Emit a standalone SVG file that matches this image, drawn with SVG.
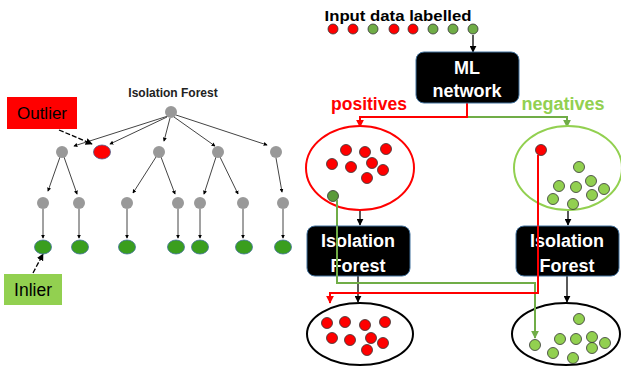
<svg xmlns="http://www.w3.org/2000/svg" width="621" height="370" viewBox="0 0 621 370">
<style>
.t{font-family:"Liberation Sans",Arial,sans-serif}
.b{font-weight:bold}
.g{fill:#999}
.leaf{fill:#3a9e1e;stroke:#41719c;stroke-width:0.8}
.rd{fill:#ff0000;stroke:#333;stroke-width:0.8}
.gd{fill:#92d050;stroke:#333;stroke-width:0.8}
.gd2{fill:#70ad47;stroke:#333;stroke-width:0.8}
.tl{stroke:#444;stroke-width:1;fill:none;marker-end:url(#sm)}
.bx{fill:#000;stroke:#41719c;stroke-width:1}
.wt{fill:#fff;font-size:18px;font-weight:bold;text-anchor:middle}
.bk{stroke:#000;stroke-width:1.3;fill:none;marker-end:url(#ab)}
</style>
<defs>
<marker id="sm" viewBox="0 0 6 6" refX="5" refY="3" markerWidth="4" markerHeight="4" orient="auto" markerUnits="userSpaceOnUse"><path d="M0,0L6,3L0,6z" fill="#000"/></marker>
<marker id="ab" viewBox="0 0 10 10" refX="9" refY="5" markerWidth="7" markerHeight="7" orient="auto" markerUnits="userSpaceOnUse"><path d="M0,0L10,5L0,10z" fill="#000"/></marker>
<marker id="ar" viewBox="0 0 10 10" refX="9" refY="5" markerWidth="8" markerHeight="8" orient="auto" markerUnits="userSpaceOnUse"><path d="M0,0L10,5L0,10z" fill="#ff0000"/></marker>
<marker id="ag" viewBox="0 0 10 10" refX="9" refY="5" markerWidth="8" markerHeight="8" orient="auto" markerUnits="userSpaceOnUse"><path d="M0,0L10,5L0,10z" fill="#70ad47"/></marker>
</defs>

<!-- Left tree -->
<g id="tree-title"><text class="t b" x="173" y="97" font-size="12" text-anchor="middle" fill="#222">Isolation Forest</text></g>

<g id="connectors">
<!-- tree edges -->
<path class="tl" d="M168,116L74,146"/>
<path class="tl" d="M167,117L110,144"/>
<path class="tl" d="M170,118L164,141"/>
<path class="tl" d="M174,117L215,146"/>
<path class="tl" d="M176,115L267,145"/>
<path class="tl" d="M60,157L48,191"/>
<path class="tl" d="M64,157L77,194"/>
<path class="tl" d="M156,157L133,193"/>
<path class="tl" d="M161,157L175,194"/>
<path class="tl" d="M216,157L204,194"/>
<path class="tl" d="M220,157L238,194"/>
<path class="tl" d="M276,158L282,192"/>
<path class="tl" d="M43,209V238"/>
<path class="tl" d="M79,209V238"/>
<path class="tl" d="M127,209V238"/>
<path class="tl" d="M178,209V238"/>
<path class="tl" d="M200,209V238"/>
<path class="tl" d="M243,209V238"/>
<path class="tl" d="M283,209V238"/>
<path d="M59,130L92,144" stroke="#000" stroke-width="1.3" stroke-dasharray="5,2" fill="none" marker-end="url(#ab)"/>
<path d="M33,273L43,254" stroke="#000" stroke-width="1.3" stroke-dasharray="5,2" fill="none" marker-end="url(#ab)"/>
<!-- right flow -->
<path class="bk" d="M473,35V52"/>
<path d="M467,103V117H360V127" stroke="#ff0000" stroke-width="2" fill="none" marker-end="url(#ar)"/>
<path d="M468,117H567V127" stroke="#70ad47" stroke-width="2" fill="none" marker-end="url(#ag)"/>
<path class="bk" d="M360,211V225"/>
<path class="bk" d="M568,211V225"/>
<path class="bk" d="M358,276V302"/>
<path class="bk" d="M567,276V302"/>
<path d="M337,200V283H535V338" stroke="#70ad47" stroke-width="2" fill="none" marker-end="url(#ag)"/>
<path d="M538,152V293H330V303" stroke="#ff0000" stroke-width="2" fill="none" marker-end="url(#ar)"/>
</g>

<g id="outlier-label"><rect x="7" y="97" width="70" height="32" fill="#ff0000"/><text class="t" x="42" y="119" font-size="17" text-anchor="middle" fill="#000">Outlier</text></g>
<g id="inlier-label"><rect x="4" y="274" width="58" height="31" fill="#92d050"/><text class="t" x="33" y="296" font-size="17.5" text-anchor="middle" fill="#000">Inlier</text></g>

<g id="root"><circle class="g" cx="171" cy="112" r="6"/></g>
<g id="level1">
<circle class="g" cx="62" cy="152" r="6"/>
<ellipse cx="102" cy="152" rx="8.5" ry="7" fill="#ff0000" stroke="#4a5a8a" stroke-width="0.8"/>
<circle class="g" cx="159" cy="152" r="6"/>
<circle class="g" cx="218" cy="152" r="6"/>
<circle class="g" cx="276" cy="152" r="6"/>
</g>
<g id="level2">
<circle class="g" cx="43" cy="203" r="6"/>
<circle class="g" cx="79" cy="203" r="6"/>
<circle class="g" cx="127" cy="203" r="6"/>
<circle class="g" cx="178" cy="203" r="6"/>
<circle class="g" cx="200" cy="203" r="6"/>
<circle class="g" cx="243" cy="203" r="6"/>
<circle class="g" cx="283" cy="203" r="6"/>
</g>
<g id="leaves">
<ellipse class="leaf" cx="43" cy="247" rx="8.5" ry="7"/>
<ellipse class="leaf" cx="80" cy="247" rx="8.5" ry="7"/>
<ellipse class="leaf" cx="127" cy="247" rx="8.5" ry="7"/>
<ellipse class="leaf" cx="176" cy="247" rx="8.5" ry="7"/>
<ellipse class="leaf" cx="200" cy="247" rx="8.5" ry="7"/>
<ellipse class="leaf" cx="244" cy="247" rx="8.5" ry="7"/>
<ellipse class="leaf" cx="283" cy="247" rx="8.5" ry="7"/>
</g>

<!-- Right flow -->
<g id="input">
<text class="t b" x="398" y="21" font-size="15.5" text-anchor="middle" fill="#000" textLength="147" lengthAdjust="spacingAndGlyphs">Input data labelled</text>
<circle class="rd" cx="333" cy="29" r="5"/>
<circle class="rd" cx="353" cy="29" r="5"/>
<circle class="gd2" cx="373" cy="29" r="5"/>
<circle class="rd" cx="394" cy="29" r="5"/>
<circle class="rd" cx="413" cy="29" r="5"/>
<circle class="gd2" cx="433" cy="29" r="5"/>
<circle class="gd2" cx="453" cy="29" r="5"/>
<circle class="gd2" cx="473" cy="29" r="5"/>
</g>
<g id="ml-network">
<rect class="bx" x="416" y="52" width="103" height="51" rx="8"/>
<text class="t wt" x="467" y="74">ML</text>
<text class="t wt" x="467" y="97">network</text>
</g>
<g id="labels">
<text class="t b" x="369" y="110" font-size="17.5" text-anchor="middle" fill="#ff0000">positives</text>
<text class="t b" x="563" y="110" font-size="18" text-anchor="middle" fill="#92d050">negatives</text>
</g>
<g id="positives-set">
<ellipse cx="360" cy="168" rx="54" ry="42" fill="#fff" stroke="#ff0000" stroke-width="2"/>
<circle class="rd" cx="346" cy="150" r="5.5"/>
<circle class="rd" cx="365" cy="152" r="5.5"/>
<circle class="rd" cx="386" cy="149" r="5.5"/>
<circle class="rd" cx="332" cy="164" r="5.5"/>
<circle class="rd" cx="351" cy="167" r="5.5"/>
<circle class="rd" cx="372" cy="163" r="5.5"/>
<circle class="rd" cx="383" cy="170" r="5.5"/>
<circle class="rd" cx="367" cy="178" r="5.5"/>
<circle cx="333" cy="196" r="5.5" fill="#5a9a3a" stroke="#333" stroke-width="0.8"/>
</g>
<g id="negatives-set">
<ellipse cx="568" cy="168" rx="54" ry="42" fill="#fff" stroke="#92d050" stroke-width="2"/>
<circle class="rd" cx="541" cy="150" r="5.5"/>
<circle class="gd" cx="579" cy="167" r="5.5"/>
<circle class="gd" cx="559" cy="186" r="5.5"/>
<circle class="gd" cx="576" cy="187" r="5.5"/>
<circle class="gd" cx="591" cy="181" r="5.5"/>
<circle class="gd" cx="604" cy="189" r="5.5"/>
<circle class="gd" cx="553" cy="199" r="5.5"/>
<circle class="gd" cx="592" cy="195" r="5.5"/>
<circle class="gd" cx="573" cy="204" r="5.5"/>
</g>
<!-- re-draw crossing lines over ellipses -->
<g id="cross-lines">
<path d="M337,200V283H535V338" stroke="#70ad47" stroke-width="2" fill="none"/>
<path d="M538,155V293H330V298" stroke="#ff0000" stroke-width="2" fill="none"/>
</g>
<g id="iforest-left">
<rect class="bx" x="307" y="226" width="103" height="50" rx="8"/>
<text class="t wt" x="358" y="247">Isolation</text>
<text class="t wt" x="358" y="272">Forest</text>
</g>
<g id="iforest-right">
<rect class="bx" x="516" y="226" width="103" height="50" rx="8"/>
<text class="t wt" x="567" y="247">Isolation</text>
<text class="t wt" x="567" y="272">Forest</text>
</g>
<g id="cross-over-boxes">
<path d="M337,226V283H535" stroke="#70ad47" stroke-width="2" fill="none"/>
<path d="M538,226V293H330" stroke="#ff0000" stroke-width="2" fill="none"/>
</g>
<g id="result-positives">
<ellipse cx="360" cy="334" rx="53" ry="31" fill="#fff" stroke="#000" stroke-width="2"/>
<circle class="rd" cx="327" cy="323" r="5.5"/>
<circle class="rd" cx="345" cy="322" r="5.5"/>
<circle class="rd" cx="365" cy="325" r="5.5"/>
<circle class="rd" cx="385" cy="322" r="5.5"/>
<circle class="rd" cx="332" cy="338" r="5.5"/>
<circle class="rd" cx="350" cy="340" r="5.5"/>
<circle class="rd" cx="371" cy="338" r="5.5"/>
<circle class="rd" cx="383" cy="343" r="5.5"/>
<circle class="rd" cx="367" cy="350" r="5.5"/>
</g>
<g id="result-negatives">
<ellipse cx="566" cy="334" rx="54" ry="31" fill="#fff" stroke="#000" stroke-width="2"/>
<circle class="gd" cx="579" cy="319" r="5.5"/>
<circle class="gd" cx="560" cy="339" r="5.5"/>
<circle class="gd" cx="576" cy="339" r="5.5"/>
<circle class="gd" cx="592" cy="337" r="5.5"/>
<circle class="gd" cx="605" cy="343" r="5.5"/>
<circle class="gd" cx="592" cy="348" r="5.5"/>
<circle class="gd" cx="553" cy="353" r="5.5"/>
<circle class="gd" cx="573" cy="358" r="5.5"/>
<circle class="gd" cx="535" cy="345" r="5.5"/>
<path d="M535,300V338" stroke="#70ad47" stroke-width="2" fill="none" marker-end="url(#ag)"/>
</g>
</svg>
